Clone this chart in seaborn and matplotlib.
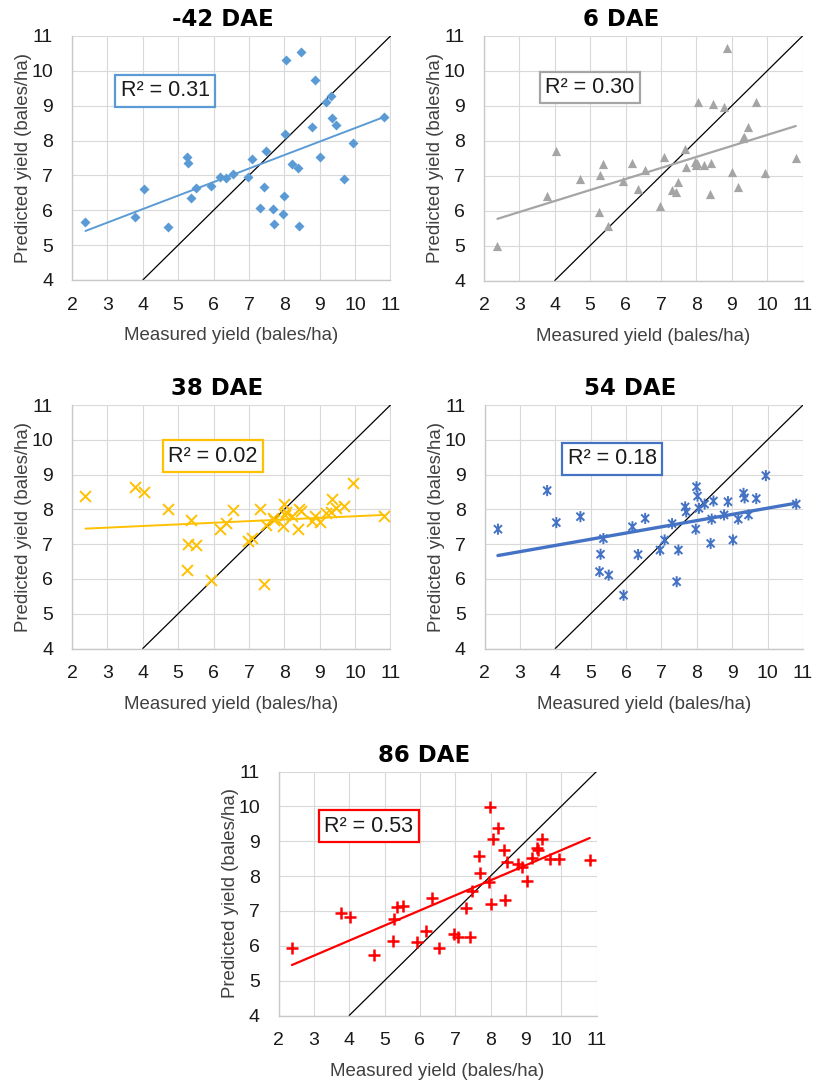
import numpy as np
import pandas as pd
import matplotlib
matplotlib.use("Agg")
import matplotlib.pyplot as plt
from matplotlib.path import Path
import seaborn as sns

# Measured lint yield per plot (bales/ha), shared by all five dates
measured = [2.38, 3.77, 4.03, 4.71, 5.25, 5.28, 5.36, 5.51, 5.93, 6.18,
            6.34, 6.54, 6.96, 7.09, 7.30, 7.43, 7.48, 7.67, 7.70, 7.97,
            7.99, 8.02, 8.06, 8.22, 8.39, 8.42, 8.47, 8.77, 8.88, 9.02,
            9.17, 9.32, 9.35, 9.46, 9.68, 9.95, 10.81]

# Predicted yield (bales/ha) at each date
pred_m42 = [5.67, 5.80, 6.60, 5.53, 7.54, 7.35, 6.34, 6.65, 6.71, 6.95,
            6.92, 7.04, 6.96, 7.47, 6.06, 6.66, 7.70, 6.04, 5.61, 5.88,
            6.41, 8.19, 10.31, 7.33, 7.21, 5.54, 10.53, 8.39, 9.73, 7.52,
            9.12, 9.29, 8.64, 8.44, 6.90, 7.94, 8.69]
pred_6 = [5.00, 6.42, 7.72, 6.90, 5.97, 7.01, 7.33, 5.57, 6.85, 7.35,
          6.62, 7.15, 6.14, 7.53, 6.60, 6.52, 6.83, 7.76, 7.25, 7.39,
          7.31, 7.36, 9.11, 7.31, 6.47, 7.35, 9.06, 8.98, 10.65, 7.10,
          6.67, 8.07, 8.12, 8.40, 9.11, 7.08, 7.51]
pred_38 = [8.38, 8.65, 8.51, 8.01, 6.27, 7.00, 7.68, 6.97, 5.97, 7.43,
           7.60, 7.97, 7.10, 7.18, 8.00, 5.86, 7.55, 7.74, 7.69, 7.52,
           8.14, 7.84, 7.93, 7.80, 7.43, 8.01, 7.95, 7.67, 7.82, 7.64,
           7.90, 7.93, 8.29, 8.03, 8.09, 8.76, 7.82]
pred_54 = [7.43, 8.54, 7.62, 7.79, 6.21, 6.71, 7.16, 6.11, 5.53, 7.50,
           6.70, 7.74, 6.83, 7.12, 7.59, 5.92, 6.83, 8.07, 7.93, 7.43,
           8.65, 8.38, 8.03, 8.15, 7.02, 7.72, 8.24, 7.84, 8.22, 7.12,
           7.72, 8.46, 8.33, 7.84, 8.31, 8.97, 8.15]
pred_86 = [5.93, 6.93, 6.82, 5.74, 6.15, 6.76, 7.10, 7.14, 6.10, 6.41,
           7.37, 5.93, 6.34, 6.24, 7.09, 6.25, 7.58, 8.57, 8.08, 7.82,
           9.98, 7.19, 9.07, 9.37, 8.75, 7.31, 8.40, 8.35, 8.27, 7.87,
           8.51, 8.80, 8.75, 9.07, 8.49, 8.49, 8.45]

titles = ["-42 DAE", "6 DAE", "38 DAE", "54 DAE", "86 DAE"]
r2_values = ["0.31", "0.30", "0.02", "0.18", "0.53"]
x_ticks = list(range(2, 12))
y_ticks = list(range(4, 12))
x_label = "Measured yield (bales/ha)"
y_label = "Predicted yield (bales/ha)"

sns.set_style("white")
plt.rcParams["font.family"] = ["Liberation Sans", "DejaVu Sans"]

W, H = 817, 1081
fig = plt.figure(figsize=(W / 100, H / 100), dpi=100)


def axes_px(x0, x1, y0, y1):
    return fig.add_axes([x0 / W, 1 - y1 / H, (x1 - x0) / W, (y1 - y0) / H])


# Excel-like asterisk: an X crossed by a vertical bar
asterisk = Path([(0, -1), (0, 1), (-0.72, -0.72), (0.72, 0.72),
                 (-0.72, 0.72), (0.72, -0.72)],
                [Path.MOVETO, Path.LINETO] * 3)

panels = [
    dict(pred=pred_m42, box=(72, 390.5, 36, 280), color="#5B9BD5",
         marker="D", s=26, kind="filled", mlw=0, line_lw=1.4,
         title_x=0.473, r2_pos=(0.292, 0.775)),
    dict(pred=pred_6, box=(484, 802.5, 36, 280.5), color="#A5A5A5",
         marker="^", s=44, kind="filled", mlw=0, line_lw=1.6,
         title_x=0.430, r2_pos=(0.333, 0.789)),
    dict(pred=pred_38, box=(72, 390.5, 405, 648.5), color="#FFC000",
         marker="x", s=62, kind="line", mlw=1.4, line_lw=1.4,
         title_x=0.455, r2_pos=(0.442, 0.790)),
    dict(pred=pred_54, box=(484.5, 803, 405, 648.5), color="#4472C4",
         marker=asterisk, s=64, kind="path", mlw=1.4, line_lw=2.4,
         title_x=0.456, r2_pos=(0.401, 0.779)),
    dict(pred=pred_86, box=(278.5, 596.5, 771.5, 1015.5), color="#FF0000",
         marker="+", s=64, kind="line", mlw=1.8, line_lw=1.6,
         title_x=0.458, r2_pos=(0.284, 0.776)),
]

for p, title, r2 in zip(panels, titles, r2_values):
    ax = axes_px(*p["box"])
    df = pd.DataFrame({"measured": measured, "predicted": p["pred"]})
    c = p["color"]

    ax.set_xlim(x_ticks[0], x_ticks[-1])
    ax.set_ylim(y_ticks[0], y_ticks[-1])
    ax.set_xticks(x_ticks)
    ax.set_yticks(y_ticks)
    ax.grid(True, color="#D9D9D9", lw=0.8)
    ax.set_axisbelow(True)
    for side in ("top", "right"):
        ax.spines[side].set_visible(False)
    for side in ("left", "bottom"):
        ax.spines[side].set_color("#C8C8C8")
        ax.spines[side].set_linewidth(1.0)
    ax.tick_params(axis="both", length=0, labelsize=14, labelcolor="#1A1A1A")
    ax.tick_params(axis="x", pad=12)
    ax.tick_params(axis="y", pad=13.5)

    # 1:1 line
    ax.axline((0, 0), slope=1, color="black", lw=0.9, zorder=2)

    # least-squares trend line over the measured range
    sns.regplot(data=df, x="measured", y="predicted", ax=ax, scatter=False,
                ci=None, truncate=True, color=c,
                line_kws=dict(lw=p["line_lw"], zorder=3))

    if p["kind"] == "filled":
        sns.scatterplot(data=df, x="measured", y="predicted", ax=ax,
                        marker=p["marker"], s=p["s"], color=c,
                        edgecolor=c, linewidth=0, zorder=4)
    elif p["kind"] == "line":
        sns.scatterplot(data=df, x="measured", y="predicted", ax=ax,
                        marker=p["marker"], s=p["s"], color=c,
                        linewidth=p["mlw"], zorder=4)
    else:
        sns.scatterplot(data=df, x="measured", y="predicted", ax=ax,
                        marker=p["marker"], s=p["s"], facecolor="none",
                        edgecolor=c, linewidth=p["mlw"], zorder=4)

    ax.set_xlabel("")
    ax.set_ylabel("")
    ax.text(0.5, -0.228, x_label, transform=ax.transAxes, ha="center",
            va="center", fontsize=13.4, color="#404040")
    ax.text(-0.152, 0.5, y_label, transform=ax.transAxes, ha="center",
            va="center", rotation=90, fontsize=13.4, color="#404040")

    ax.text(p["title_x"], 1.04, title, transform=ax.transAxes,
            ha="center", va="baseline", fontsize=16.5, fontweight="bold",
            family=["DejaVu Sans"], color="black")

    ax.text(*p["r2_pos"], f"R² = {r2}", transform=ax.transAxes,
            ha="center", va="center", fontsize=15.5, color="#1A1A1A",
            zorder=6,
            bbox=dict(boxstyle="square,pad=0.25", fc="white", ec=c, lw=1.6))

fig.savefig("out.png", dpi=100, facecolor="white")
